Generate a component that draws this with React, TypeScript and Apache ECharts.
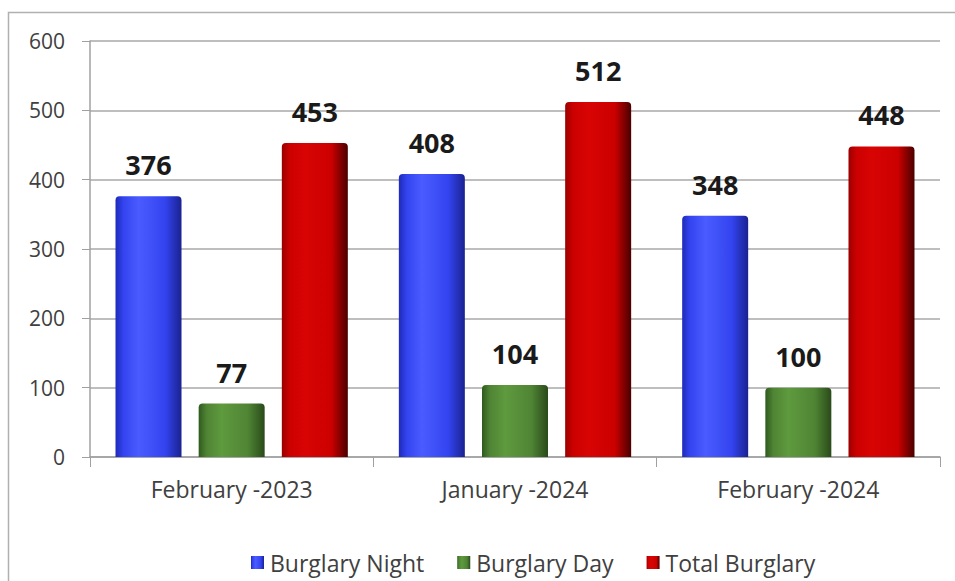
import React, { useEffect, useRef } from "react";
import * as echarts from "echarts";

const categories = ["February -2023", "January -2024", "February -2024"];
const burglaryNight = [376, 408, 348];
const burglaryDay = [77, 104, 100];
const totalBurglary = [453, 512, 448];
const yTicks = [0, 100, 200, 300, 400, 500, 600];

const FONT = "'Open Sans', Lato, sans-serif";

function grad(edge: string, mid: string, light: string, right: string) {
  return new echarts.graphic.LinearGradient(0, 0, 1, 0, [
    { offset: 0, color: edge },
    { offset: 0.12, color: mid },
    { offset: 0.35, color: light },
    { offset: 0.75, color: mid },
    { offset: 1, color: right },
  ]);
}

export default function App() {
  const ref = useRef<HTMLDivElement>(null);
  useEffect(() => {
    if (!ref.current) return;
    const chart = echarts.init(ref.current, null, { renderer: "svg" });
    const label = {
      show: true,
      position: "top" as const,
      distance: 18,
      fontFamily: FONT,
      fontWeight: "bold" as const,
      fontSize: 27,
      color: "#1a1a1a",
    };
    chart.setOption({
      animation: false,
      backgroundColor: "#ffffff",
      graphic: [
        {
          type: "rect",
          shape: { x: 8.5, y: 12.5, width: 960, height: 600 },
          style: { fill: "none", stroke: "#b0b0b0", lineWidth: 1.5 },
          silent: true,
          z: -10,
        },
      ],
      grid: { left: 90, right: 15, top: 41, bottom: 124, containLabel: false },
      legend: {
        left: 246,
        top: 546,
        itemWidth: 13,
        itemHeight: 13,
        itemGap: 33,
        icon: "rect",
        textStyle: { fontFamily: FONT, fontSize: 23, color: "#404040", padding: [0, 0, 0, 1] },
        data: ["Burglary Night", "Burglary Day", "Total Burglary"],
      },
      xAxis: {
        type: "category",
        data: categories,
        axisLine: { lineStyle: { color: "#a0a0a0", width: 1.5 } },
        axisTick: { show: true, alignWithLabel: false, length: 10, lineStyle: { color: "#a0a0a0" } },
        axisLabel: { fontFamily: FONT, fontSize: 23, color: "#404040", margin: 20 },
      },
      yAxis: {
        type: "value",
        min: 0,
        max: 600,
        interval: 100,
        axisLine: { show: true, lineStyle: { color: "#a0a0a0", width: 1.5 } },
        axisTick: { show: true, length: 8, lineStyle: { color: "#a0a0a0" } },
        axisLabel: {
          fontFamily: FONT,
          fontSize: 21,
          color: "#404040",
          margin: 25,
          formatter: (v: number) => (yTicks.includes(v) ? String(v) : ""),
        },
        splitLine: { lineStyle: { color: "#a8a8a8", width: 1.5 } },
      },
      series: [
        {
          name: "Burglary Night",
          type: "bar",
          data: burglaryNight,
          barWidth: 66,
          barGap: "26%",
          itemStyle: {
            color: grad("#1e2ab8", "#3344f0", "#4a5cff", "#1a2290"),
            borderRadius: [4, 4, 0, 0],
          },
          label,
        },
        {
          name: "Burglary Day",
          type: "bar",
          data: burglaryDay,
          barWidth: 66,
          barGap: "26%",
          itemStyle: {
            color: grad("#2f5a1e", "#4f8434", "#5e9a3e", "#2a4a1a"),
            borderRadius: [4, 4, 0, 0],
          },
          label,
        },
        {
          name: "Total Burglary",
          type: "bar",
          data: totalBurglary,
          barWidth: 66,
          barGap: "26%",
          itemStyle: {
            color: grad("#9a0000", "#cc0000", "#d80404", "#4a0000"),
            borderRadius: [4, 4, 0, 0],
          },
          label,
        },
      ],
    });
    return () => chart.dispose();
  }, []);
  return (
    <div
      ref={ref}
      style={{ position: "absolute", left: 0, top: 0, width: 955, height: 581 }}
    />
  );
}
